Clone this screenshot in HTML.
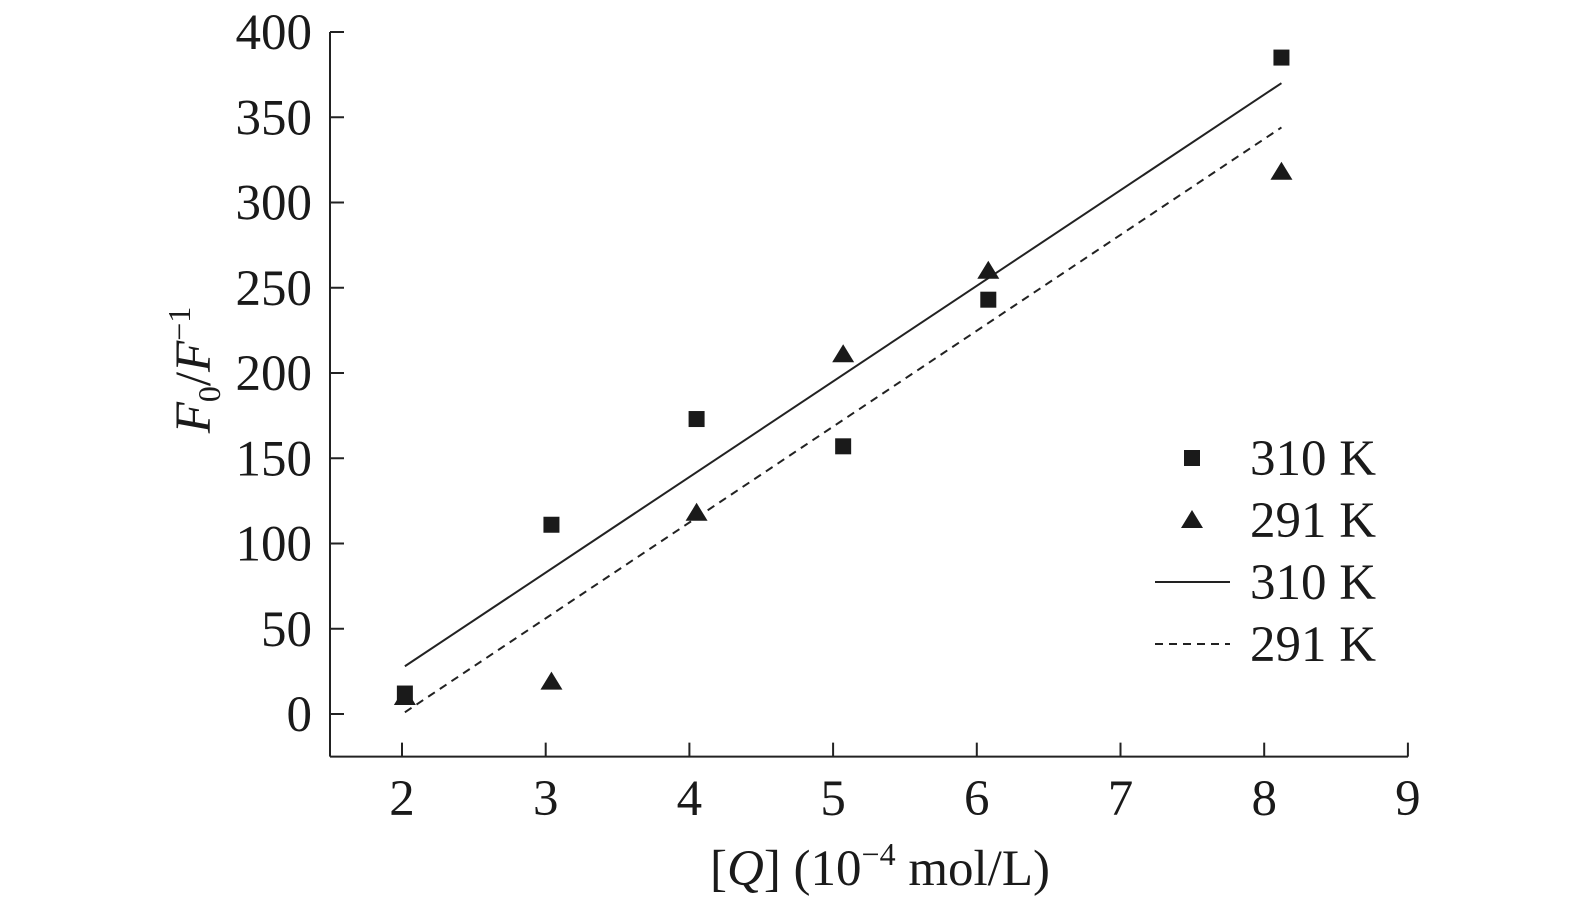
<!DOCTYPE html>
<html><head><meta charset="utf-8"><style>
body{margin:0;background:#fff;}
svg text{font-family:"Liberation Serif",serif;fill:#1a1a1a;}
</style></head><body>
<svg id="chart" width="1575" height="906" xmlns="http://www.w3.org/2000/svg">
<g id="axes"></g><g id="marks"></g><g id="legend"></g>
</svg>
<script>
const xTicks=[2,3,4,5,6,7,8,9];
const yTicks=[0,50,100,150,200,250,300,350,400];
const conc=[2.02,3.04,4.05,5.07,6.08,8.12];
const s310=[12,111,173,157,243,385];
const s291=[10,19,118,211,260,318];
const fit310=[28,370];
const fit291=[1,344];
const fitX=[2.02,8.12];
const NS="http://www.w3.org/2000/svg";
const X=v=>402+(v-2)*143.7;
const Y=v=>714-v*1.705;
function el(t,a,p){const e=document.createElementNS(NS,t);for(const k in a)e.setAttribute(k,a[k]);p.appendChild(e);return e;}
const ax=document.getElementById('axes'),mk=document.getElementById('marks'),lg=document.getElementById('legend');
let e=el('line',{x1:330,y1:Y(-25),x2:1408,y2:Y(-25),stroke:'#222','stroke-width':2},ax);

e=el('line',{x1:330,y1:Y(-25),x2:330,y2:Y(400),stroke:'#222','stroke-width':2},ax);

xTicks.forEach(v=>{
 e=el('line',{x1:X(v),y1:Y(-25),x2:X(v),y2:Y(-25)-14,stroke:'#222','stroke-width':2},ax);
 
 e=el('text',{x:X(v),y:815,'text-anchor':'middle','font-size':51},ax);e.textContent=v;
 
});
yTicks.forEach(v=>{
 e=el('line',{x1:330,y1:Y(v),x2:344,y2:Y(v),stroke:'#222','stroke-width':2},ax);
 
 e=el('text',{x:312,y:Y(v)+17,'text-anchor':'end','font-size':51},ax);e.textContent=v;
 
});
e=el('text',{x:880,y:885,'text-anchor':'middle','font-size':51},ax);
e.innerHTML='[<tspan font-style="italic">Q</tspan>] (10<tspan font-size="32" dy="-20">−4</tspan><tspan dy="20"> mol/L)</tspan>';

e=el('text',{x:0,y:0,'text-anchor':'middle','font-size':51,transform:'translate(210,370) rotate(-90)'},ax);
e.innerHTML='<tspan font-style="italic">F</tspan><tspan font-size="32" dy="10">0</tspan><tspan dy="-10">/</tspan><tspan font-style="italic">F</tspan><tspan font-size="32" dy="-20">−1</tspan>';

e=el('line',{x1:X(fitX[0]),y1:Y(fit310[0]),x2:X(fitX[1]),y2:Y(fit310[1]),stroke:'#222','stroke-width':2},mk);

e=el('line',{x1:X(fitX[0]),y1:Y(fit291[0]),x2:X(fitX[1]),y2:Y(fit291[1]),stroke:'#222','stroke-width':2,'stroke-dasharray':'8,6'},mk);

function sq(x,y,p){return el('rect',{x:x-8,y:y-8,width:16,height:16,fill:'#1a1a1a'},p);}
function tri(x,y,p){return el('polygon',{points:`${x},${y-10} ${x+11},${y+8} ${x-11},${y+8}`,fill:'#1a1a1a'},p);}
conc.forEach((c,i)=>{
 e=sq(X(c),Y(s310[i]),mk);
 e=tri(X(c),Y(s291[i]),mk);
});
const labels=['310 K','291 K','310 K','291 K'];
labels.forEach((t,i)=>{
 const y=458+i*62;
 let s;
 if(i==0)s=sq(1192,y,lg);else if(i==1)s=tri(1192,y,lg);
 else s=el('line',{x1:1155,y1:y,x2:1230,y2:y,stroke:'#222','stroke-width':2,'stroke-dasharray':i==3?'8,6':'none'},lg);
 
 e=el('text',{x:1250,y:y+17,'font-size':51},lg);e.textContent=t;
 
});
</script>
</body></html>
